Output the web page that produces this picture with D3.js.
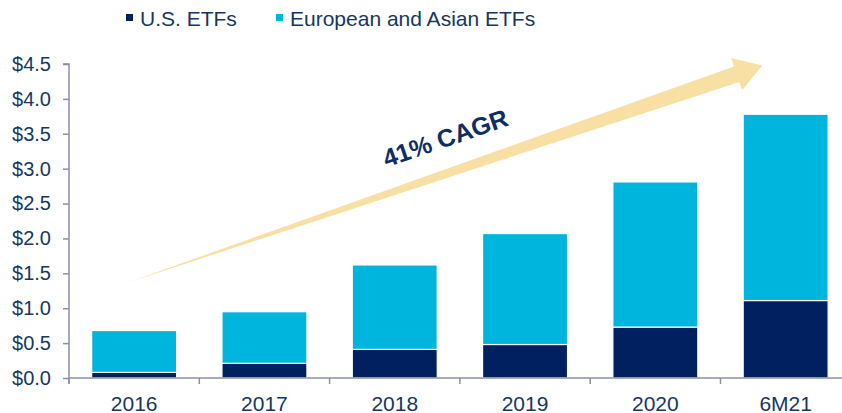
<!DOCTYPE html>
<html>
<head>
<meta charset="utf-8">
<script src="https://cdn.jsdelivr.net/npm/d3@7"></script>
<style>
  html, body { margin: 0; padding: 0; background: #fff; overflow: hidden; }
  svg { display: block; font-family: "Liberation Sans", Arial, sans-serif; }
</style>
</head>
<body>
<svg id="chart" width="842" height="413"></svg>
<script>
// ---- data ----
const categories = ["2016", "2017", "2018", "2019", "2020", "6M21"];
const usEtfs = [0.08, 0.21, 0.41, 0.48, 0.73, 1.11];
const euroAsianEtfs = [0.60, 0.74, 1.21, 1.59, 2.08, 2.67];
const seriesNames = ["U.S. ETFs", "European and Asian ETFs"];
const yTicks = [0, 0.5, 1.0, 1.5, 2.0, 2.5, 3.0, 3.5, 4.0, 4.5];
const annotationText = "41% CAGR";
// arrow annotation in data space: [category position, value]
const arrowTail = [0.44, 1.36];
const arrowTip = [5.32, 4.48];

// ---- styles ----
const colUS = "#00205F";
const colEU = "#00B5DD";
const colText = "#17375E";
const colAxis = "#8B90A6";
const colArrow = "#F8DFA4";

const svg = d3.select("#chart");
const plotLeft = 69, plotBottom = 378, plotTop = 64;
const step = 130.3;

const x = d3.scaleBand().domain(categories)
  .range([plotLeft, plotLeft + step * categories.length])
  .paddingInner(0.348).paddingOuter(0.174).align(0.5);
const xc = d3.scaleLinear().domain([0, categories.length])
  .range([plotLeft, plotLeft + step * categories.length]);
const y = d3.scaleLinear().domain([0, 4.5]).range([plotBottom, plotTop]);

const rows = categories.map((c, i) => ({ cat: c, us: usEtfs[i], eu: euroAsianEtfs[i] }));
const stack = d3.stack().keys(["us", "eu"])(rows);
const colors = { us: colUS, eu: colEU };

// arrow (drawn first, behind bars)
(function drawArrow() {
  const tx = xc(arrowTail[0]), ty = y(arrowTail[1]);
  const hx = xc(arrowTip[0]), hy = y(arrowTip[1]);
  const dx = hx - tx, dy = hy - ty, L = Math.hypot(dx, dy);
  const ux = dx / L, uy = dy / L, nx = -uy, ny = ux;
  const headLen = 27, headHalf = 17, shaftHalf = 8.2;
  const bx = hx - ux * headLen, by = hy - uy * headLen;
  const pts = [
    [tx, ty],
    [bx - nx * shaftHalf, by - ny * shaftHalf],
    [bx - nx * headHalf, by - ny * headHalf],
    [hx, hy],
    [bx + nx * headHalf, by + ny * headHalf],
    [bx + nx * shaftHalf, by + ny * shaftHalf]
  ];
  svg.append("path").attr("d", d3.line()(pts) + "Z").attr("fill", colArrow);
})();

// annotation text
{
  const ax = xc(2.91), ay = y(3.32);
  svg.append("text")
    .attr("transform", `translate(${ax},${ay}) rotate(-19)`)
    .attr("text-anchor", "middle")
    .attr("font-size", 25).attr("font-weight", "bold")
    .attr("fill", "#0E2D66")
    .text(annotationText);
}

// bars
svg.append("g").selectAll("g").data(stack).join("g")
  .attr("fill", d => colors[d.key])
  .selectAll("rect").data(d => d).join("rect")
  .attr("x", d => x(d.data.cat))
  .attr("width", x.bandwidth())
  .attr("y", d => y(d[1]))
  .attr("height", d => y(d[0]) - y(d[1]))
  .attr("stroke", "#fff").attr("stroke-width", 1.2);

// y axis
const yAxis = svg.append("g").attr("transform", `translate(${plotLeft},0)`)
  .call(d3.axisLeft(y).tickValues(yTicks).tickSize(6).tickPadding(12)
    .tickFormat(d => "$" + d.toFixed(1)));
yAxis.select(".domain").attr("stroke", colAxis).attr("stroke-width", 1.5)
  .attr("d", `M-6,${plotTop}H0V${plotBottom + 6}`);
yAxis.selectAll(".tick line").attr("stroke", colAxis).attr("stroke-width", 1.5);
yAxis.selectAll(".tick text").attr("fill", colText).attr("font-size", 20)
  .attr("font-family", "'Liberation Sans', Arial, sans-serif");

// x axis
const xg = svg.append("g");
xg.append("line").attr("x1", plotLeft).attr("x2", 842).attr("y1", plotBottom).attr("y2", plotBottom)
  .attr("stroke", colAxis).attr("stroke-width", 1.5);
xg.selectAll("line.tb").data(d3.range(categories.length + 1)).join("line")
  .attr("class", "tb")
  .attr("x1", i => xc(i)).attr("x2", i => xc(i))
  .attr("y1", plotBottom).attr("y2", plotBottom + 6)
  .attr("stroke", colAxis).attr("stroke-width", 1.5);
xg.selectAll("text").data(categories).join("text")
  .attr("x", c => x(c) + x.bandwidth() / 2)
  .attr("y", plotBottom + 33)
  .attr("text-anchor", "middle")
  .attr("font-size", 21).attr("fill", colText)
  .text(c => c);

// legend
const legendX = [126, 276];
const legendCols = [colUS, colEU];
const lg = svg.append("g");
seriesNames.forEach((name, i) => {
  lg.append("rect").attr("x", legendX[i]).attr("y", 14).attr("width", 7).attr("height", 7)
    .attr("fill", legendCols[i]);
  lg.append("text").attr("x", legendX[i] + 14).attr("y", 25.5)
    .attr("font-size", 21).attr("fill", colText).text(name);
});
</script>
</body>
</html>
